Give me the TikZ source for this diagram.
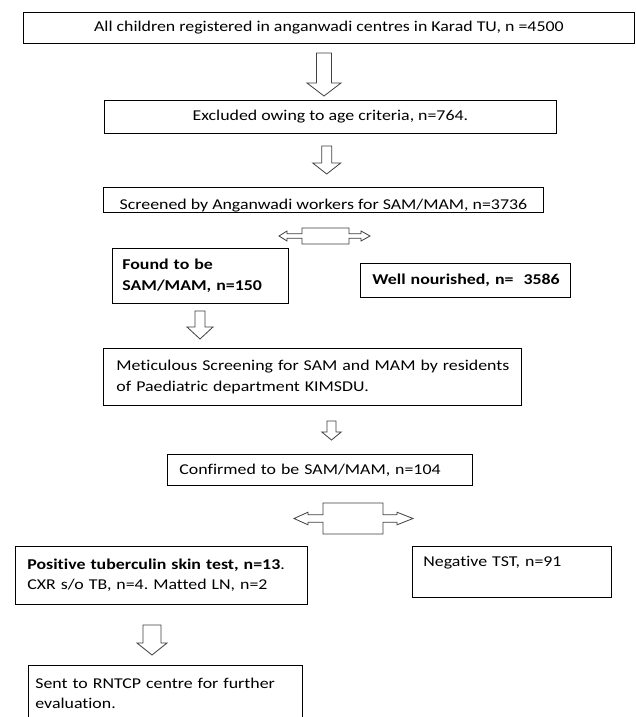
\documentclass[tikz,border=0pt]{standalone}
\usepackage{fontspec}
\setmainfont{Carlito}[FakeStretch=1.19, Ligatures=NoCommon]
\begin{document}
\frenchspacing
\begin{tikzpicture}[x=1pt,y=-1pt,
  box/.style={draw=black, line width=0.8pt, inner sep=0pt, anchor=north west,
    font=\fontsize{15}{21.5}\selectfont},
  boxl/.style={box, align=left},
  blk/.style={draw=black!75, line width=0.8pt, fill=white, line join=miter}]
\clip (0,0) rectangle (635,717);
\useasboundingbox (0,0) rectangle (635,717);
\fill[white] (0,0) rectangle (635,717);

% boxes
\node[box, minimum width=611pt, minimum height=31pt] (b1) at (23,12)
  {All children registered in anganwadi centres in Karad TU, n =4500};
\node[box, minimum width=452pt, minimum height=33pt] (b2) at (104,100)
  {Excluded owing to age criteria, n=764.};
\node[box, minimum width=440pt, minimum height=25pt, text height=19pt, text depth=0pt] (b3) at (103,187)
  {Screened by Anganwadi workers for SAM/MAM, n=3736};
\node[boxl, minimum width=176pt, minimum height=55pt, inner xsep=10pt, text width=156pt] (found) at (112,248)
  {\textbf{Found to be}\\\textbf{SAM/MAM, n=150}};
\node[boxl, minimum width=210pt, minimum height=34pt, inner xsep=12pt, text width=186pt] (well) at (360,263)
  {\mbox{\textbf{Well nourished, n=\ \ 3586}}};
\node[boxl, minimum width=418pt, minimum height=57pt, inner xsep=13pt, text width=392pt] (meti) at (103,348)
  {\mbox{Meticulous Screening for SAM and MAM by residents}\\\mbox{of Paediatric department KIMSDU.}};
\node[boxl, minimum width=305pt, minimum height=31pt, inner xsep=12pt, text width=281pt] (conf) at (167,454)
  {Confirmed to be SAM/MAM, n=104};
\node[boxl, minimum width=292pt, minimum height=58pt, inner xsep=12pt, text width=268pt,
      font=\fontsize{15}{20}\selectfont] (pos) at (15,546)
  {\mbox{\textbf{Positive tuberculin skin test, n=13}.}\\\mbox{CXR s/o TB, n=4. Matted LN, n=2}};
\node[boxl, minimum width=199pt, minimum height=51pt, inner xsep=11pt, text width=177pt] (neg) at (412,546)
  {Negative TST, n=91\\\mbox{}};
\node[boxl, minimum width=274pt, minimum height=56pt, inner xsep=7pt, text width=260pt,
      font=\fontsize{15}{20.5}\selectfont] (sent) at (28,665)
  {\mbox{Sent to RNTCP centre for further}\\evaluation.};

% hollow down arrows: cx, top, headbase, tip, shaft half-width, head half-width
\newcommand{\blkdown}[6]{\draw[blk] ({#1-#5},#2) -- ({#1+#5},#2) -- ({#1+#5},#3) -- ({#1+#6},#3) -- (#1,#4) -- ({#1-#6},#3) -- ({#1-#5},#3) -- cycle;}
\blkdown{324}{53}{83}{96}{7.5}{17}
\blkdown{326.7}{146}{163}{174}{5}{14}
\blkdown{200}{311}{327}{339}{5}{13}
\blkdown{331.5}{421}{432}{440}{4.5}{9.7}
\blkdown{152}{625}{643}{655}{9}{15}

% left-right arrow callouts
\draw[blk] (302,228)--(349,228)--(349,233.7)--(361,233.7)--(361,231)--(370,236)--(361,241)--(361,238.3)--(349,238.3)--(349,244)--(302,244)--(302,238.3)--(287,238.3)--(287,241)--(279,236)--(287,231)--(287,233.7)--(302,233.7)--cycle;
\draw[blk] (323,503)--(383,503)--(383,514.7)--(397,514.7)--(397,512.2)--(413,518.5)--(397,524.8)--(397,522.3)--(383,522.3)--(383,534)--(323,534)--(323,522.3)--(308,522.3)--(308,524.8)--(294,518.5)--(308,512.2)--(308,514.7)--(323,514.7)--cycle;
\end{tikzpicture}
\end{document}
